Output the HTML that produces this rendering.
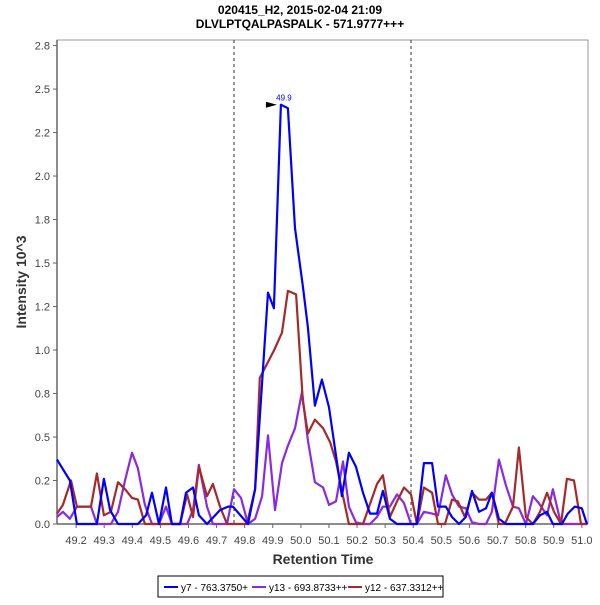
<!DOCTYPE html>
<html><head><meta charset="utf-8"><style>
body{margin:0;background:#fff;font-family:"Liberation Sans",sans-serif;}
svg text{font-family:"Liberation Sans",sans-serif;}
</style></head><body>
<svg id="chart" width="600" height="600" viewBox="0 0 600 600">
<rect x="0" y="0" width="600" height="600" fill="#fff"/>
<text x="300" y="14" text-anchor="middle" font-size="12" font-weight="bold">020415_H2, 2015-02-04 21:09</text>
<text x="300" y="28" text-anchor="middle" font-size="12" font-weight="bold">DLVLPTQALPASPALK - 571.9777+++</text>
<rect x="57" y="40" width="531" height="484" fill="#fff" stroke="#999" stroke-width="1"/>
<g id="grid"></g>
<g id="axes"></g>
<g id="series"></g>
<text transform="translate(26,282) rotate(-90)" text-anchor="middle" font-size="14" font-weight="bold" fill="#333">Intensity 10^3</text>
<text x="323" y="564" text-anchor="middle" font-size="14" font-weight="bold" fill="#333">Retention Time</text>
<g>
<rect x="158" y="576" width="285" height="21" fill="#fff" stroke="#000" stroke-width="1"/>
<line x1="164" y1="587" x2="178" y2="587" stroke="#0000ff" stroke-width="2"/>
<text x="181" y="591" font-size="10">y7 - 763.3750+</text>
<line x1="252" y1="587" x2="266" y2="587" stroke="#8a2be2" stroke-width="2"/>
<text x="269" y="591" font-size="10">y13 - 693.8733++</text>
<line x1="348" y1="587" x2="362" y2="587" stroke="#a52a2a" stroke-width="2"/>
<text x="365" y="591" font-size="10">y12 - 637.3312++</text>
</g>
</svg>
<script>
const xTicks=[49.2,49.3,49.4,49.5,49.6,49.7,49.8,49.9,50.0,50.1,50.2,50.3,50.4,50.5,50.6,50.7,50.8,50.9,51.0];
const yTicks=[0,0.25,0.5,0.75,1.0,1.25,1.5,1.75,2.0,2.25,2.5,2.75];
const yTickLabels=["0.0","0.2","0.5","0.8","1.0","1.2","1.5","1.8","2.0","2.2","2.5","2.8"];
const boundaryTimes=[49.762,50.392];
const peakTime=49.929, peakValue=2.41, peakLabel="49.9";
const y7Times=[49.132,49.178,49.203,49.274,49.299,49.321,49.349,49.420,49.449,49.470,49.495,49.520,49.541,49.570,49.591,49.616,49.637,49.666,49.712,49.741,49.758,49.812,49.837,49.883,49.904,49.929,49.954,49.979,50.007,50.025,50.050,50.075,50.100,50.146,50.171,50.196,50.221,50.246,50.271,50.292,50.317,50.342,50.413,50.438,50.467,50.488,50.516,50.538,50.563,50.587,50.609,50.634,50.659,50.680,50.705,50.730,50.826,50.851,50.876,50.897,50.929,50.950,50.975,51.000,51.018];
const y7Values=[.37,.25,0,0,.26,.08,0,0,.05,.18,0,.21,0,0,.18,.21,.05,0,.08,.1,.1,0,.2,1.33,1.24,2.41,2.39,1.70,1.37,1.13,.68,.83,.67,.16,.41,.33,.18,.06,.06,.19,.03,0,0,.35,.35,.1,.1,.04,0,.04,.19,.07,.09,.18,.03,0,0,.05,.07,0,0,.06,.1,.09,0];
const y13Times=[49.132,49.153,49.178,49.203,49.253,49.274,49.324,49.349,49.374,49.399,49.420,49.445,49.470,49.495,49.520,49.541,49.595,49.616,49.637,49.666,49.687,49.737,49.762,49.787,49.812,49.837,49.862,49.883,49.908,49.933,49.954,49.979,50.004,50.025,50.050,50.079,50.100,50.125,50.150,50.171,50.196,50.221,50.246,50.271,50.292,50.317,50.342,50.367,50.392,50.413,50.438,50.467,50.488,50.516,50.538,50.563,50.587,50.609,50.634,50.659,50.680,50.705,50.730,50.755,50.776,50.801,50.826,50.847,50.876,50.897,50.926,51.018];
const y13Values=[.04,.07,.03,.1,.1,0,0,.07,.25,.41,.32,.11,0,0,.1,0,0,.08,.34,.1,0,0,.2,.15,0,.03,.16,.51,.08,.35,.45,.55,.76,.48,.24,.21,.11,.13,.36,.1,.01,0,0,.04,.1,.1,.17,.12,0,0,.07,.06,.05,.28,.17,.1,.09,.01,0,0,.07,.37,.22,.1,.09,0,.16,.12,.05,.2,0,0];
const y12Times=[49.132,49.153,49.182,49.203,49.253,49.274,49.299,49.324,49.349,49.374,49.399,49.420,49.445,49.570,49.595,49.616,49.637,49.666,49.687,49.712,49.737,49.808,49.837,49.854,49.905,49.933,49.954,49.983,50.007,50.025,50.050,50.079,50.104,50.125,50.150,50.171,50.221,50.271,50.292,50.317,50.342,50.367,50.392,50.413,50.438,50.467,50.488,50.513,50.538,50.559,50.584,50.609,50.634,50.659,50.680,50.705,50.726,50.755,50.776,50.801,50.826,50.851,50.876,50.901,50.926,50.947,50.972,50.997,51.018];
const y12Values=[.06,.11,.25,.1,.1,.29,.05,.07,.24,.2,.15,.14,0,0,.17,.04,.33,.16,.23,.1,0,0,.2,.84,1.0,1.10,1.34,1.32,.71,.52,.6,.55,.47,.36,.16,0,0,.23,.28,.04,.13,.21,.17,0,.21,.18,0,0,.14,.13,.04,.18,.14,.14,.18,0,0,.1,.44,.04,0,.07,.18,.07,0,.26,.25,0,0];

const NS="http://www.w3.org/2000/svg";
const X0=57,X1=588,Y0=524,Y1=40,TMIN=49.132,TMAX=51.022,VMAX=2.782;
function xs(t){return X0+(t-TMIN)/(TMAX-TMIN)*(X1-X0);}
function ys(v){return Y0-v/VMAX*(Y0-Y1);}
function mk(tag,attrs,parent){const e=document.createElementNS(NS,tag);for(const k in attrs)e.setAttribute(k,attrs[k]);parent.appendChild(e);return e;}
const axes=document.getElementById('axes'),grid=document.getElementById('grid'),ser=document.getElementById('series');
let ax=mk('line',{x1:X0,y1:Y1,x2:X0,y2:Y0,stroke:'#666','stroke-width':1.5},axes);


let bx=mk('line',{x1:X0,y1:Y0,x2:X1,y2:Y0,stroke:'#666','stroke-width':1.5},axes);


yTicks.forEach((v,i)=>{
  const y=ys(v);
  mk('line',{x1:X0-4,y1:y,x2:X0,y2:y,stroke:'#666'},axes);
  const t=mk('text',{x:X0-7,y:y+4,'text-anchor':'end','font-size':11,fill:'#444'},axes);
  t.textContent=yTickLabels[i];
  
  
});
xTicks.forEach(v=>{
  const x=xs(v);
  mk('line',{x1:x,y1:Y0,x2:x,y2:Y0+4,stroke:'#666'},axes);
  const t=mk('text',{x:x,y:Y0+20,'text-anchor':'middle','font-size':11,fill:'#444'},axes);
  t.textContent=v.toFixed(1);
  
  
});
boundaryTimes.forEach(t=>{
  const l=mk('line',{x1:xs(t),y1:Y1,x2:xs(t),y2:Y0,stroke:'#333','stroke-dasharray':'3,3','stroke-width':1},grid);
  
  
});
function line(ts,vs,color,name){
  const p=mk('polyline',{points:ts.map((t,i)=>xs(t).toFixed(1)+','+ys(vs[i]).toFixed(1)).join(' '),fill:'none',stroke:color,'stroke-width':2.2,'stroke-linejoin':'round'},ser);
  
  
}
line(y13Times,y13Values,'#8a2be2','series-y13');
line(y12Times,y12Values,'#a52a2a','series-y12');
line(y7Times,y7Values,'#0000ff','series-y7');
const px=xs(peakTime),py=ys(peakValue);
const arr=mk('polygon',{points:(px-15)+','+(py-3)+' '+(px-4)+','+py+' '+(px-15)+','+(py+3),fill:'#000'},ser);


const pl=mk('text',{x:px+3,y:py-4,'text-anchor':'middle','font-size':8,fill:'#0000ff'},ser);
pl.textContent=peakLabel;


</script>
</body></html>
